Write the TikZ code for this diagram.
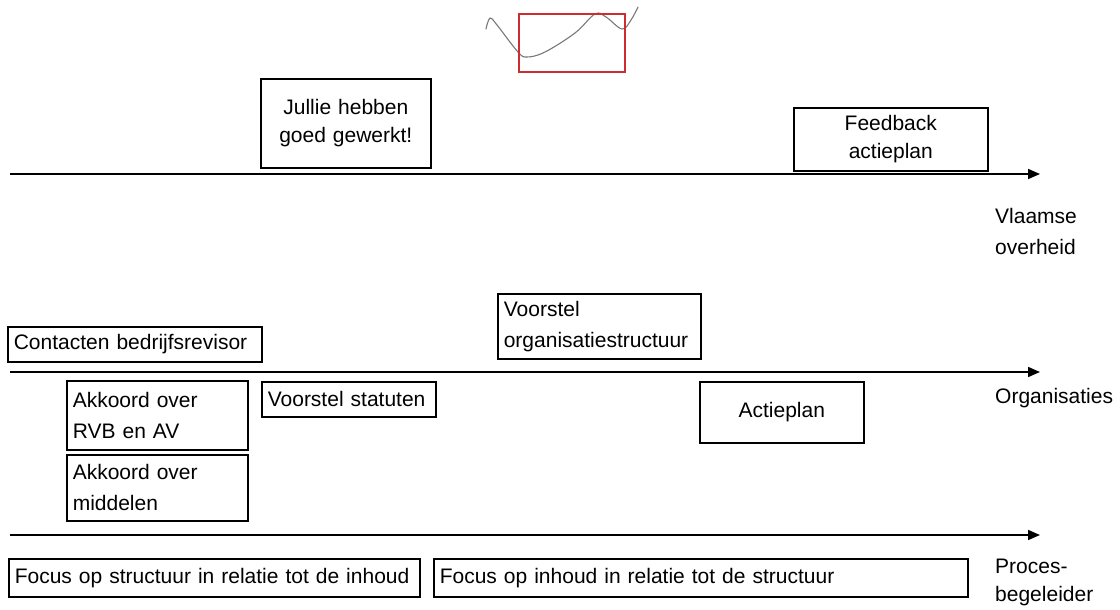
\documentclass[tikz,border=0pt]{standalone}
\usepackage{fontspec}
\setmainfont{Liberation Sans}
\usetikzlibrary{arrows.meta}
\definecolor{sketchred}{RGB}{205,45,45}
\definecolor{sketchgray}{RGB}{120,120,120}
\begin{document}
\begin{tikzpicture}[x=1pt,y=-1pt,
  txt/.style={font=\fontsize{21}{31}\selectfont},
  tight/.style={font=\fontsize{21}{28}\selectfont},
  lbl/.style={txt, inner sep=0pt, anchor=west, align=left},
  box/.style={txt, draw, line width=1.6pt, anchor=north west,
    inner xsep=6pt, inner ysep=0pt, align=left},
  cbox/.style={box, align=center},
  timeline/.style={line width=1.7pt, -{Triangle[length=12pt,width=10pt]}},
]
\useasboundingbox (0,0) rectangle (1120,610);

% small sketch at the top
\draw[sketchgray, line width=1.1pt, line cap=round]
  plot[smooth, tension=0.6] coordinates {(486,29) (490,18) (497,25) (518,52)
    (527,57) (545,52) (575,33) (595,14) (606,17) (622,29) (631,20) (638,7)};
\node[draw=sketchred, line width=1.8pt, minimum width=106pt, minimum height=58pt,
  inner sep=0pt, anchor=north west] (frame) at (518,13) {};

% time lines
\coordinate (v0) at (10,174);  \coordinate (v1) at (1040,174);
\coordinate (o0) at (10,372);  \coordinate (o1) at (1040,372);
\coordinate (p0) at (10,535);  \coordinate (p1) at (1040,535);
\draw[timeline] (v0) -- (v1);
\draw[timeline] (o0) -- (o1);
\draw[timeline] (p0) -- (p1);

% actors
\node[lbl] (vo) at (995,231) {Vlaamse\\overheid};
\node[lbl] (org) at (995,398) {Organisaties};
\node[lbl, tight] (pb) at (995,582) {Proces-\\begeleider};

% Vlaamse overheid
\node[cbox, tight, minimum width=170pt, minimum height=89pt, text width=158pt] (goed) at (260,78)
  {Jullie hebben\\goed gewerkt!};
\node[cbox, tight, minimum width=194pt, minimum height=63pt, text width=182pt] (feedback) at (793,107)
  {Feedback\\actieplan};

% Organisaties
\node[box, minimum width=203pt, minimum height=65pt, text width=191pt] (structuur) at (497,293)
  {Voorstel\\organisatiestructuur};
\node[box, minimum width=254pt, minimum height=35pt, text width=242pt] (revisor) at (7,326)
  {Contacten bedrijfsrevisor};
\node[box, minimum width=181pt, minimum height=69pt, text width=169pt] (rvb) at (66,380)
  {Akkoord over\\RVB en AV};
\node[box, minimum width=181pt, minimum height=66pt, text width=169pt] (middelen) at (66,454)
  {Akkoord over\\middelen};
\node[box, minimum width=174pt, minimum height=35pt, text width=162pt] (statuten) at (261,381)
  {Voorstel statuten};
\node[cbox, minimum width=164pt, minimum height=61pt, text width=152pt] (actieplan) at (699,381)
  {Actieplan};

% Procesbegeleider
\node[box, minimum width=411pt, minimum height=38pt, text width=399pt] (focus1) at (8,558)
  {Focus op structuur in relatie tot de inhoud};
\node[box, minimum width=534pt, minimum height=38pt, text width=522pt] (focus2) at (433,558)
  {Focus op inhoud in relatie tot de structuur};
\end{tikzpicture}
\end{document}
